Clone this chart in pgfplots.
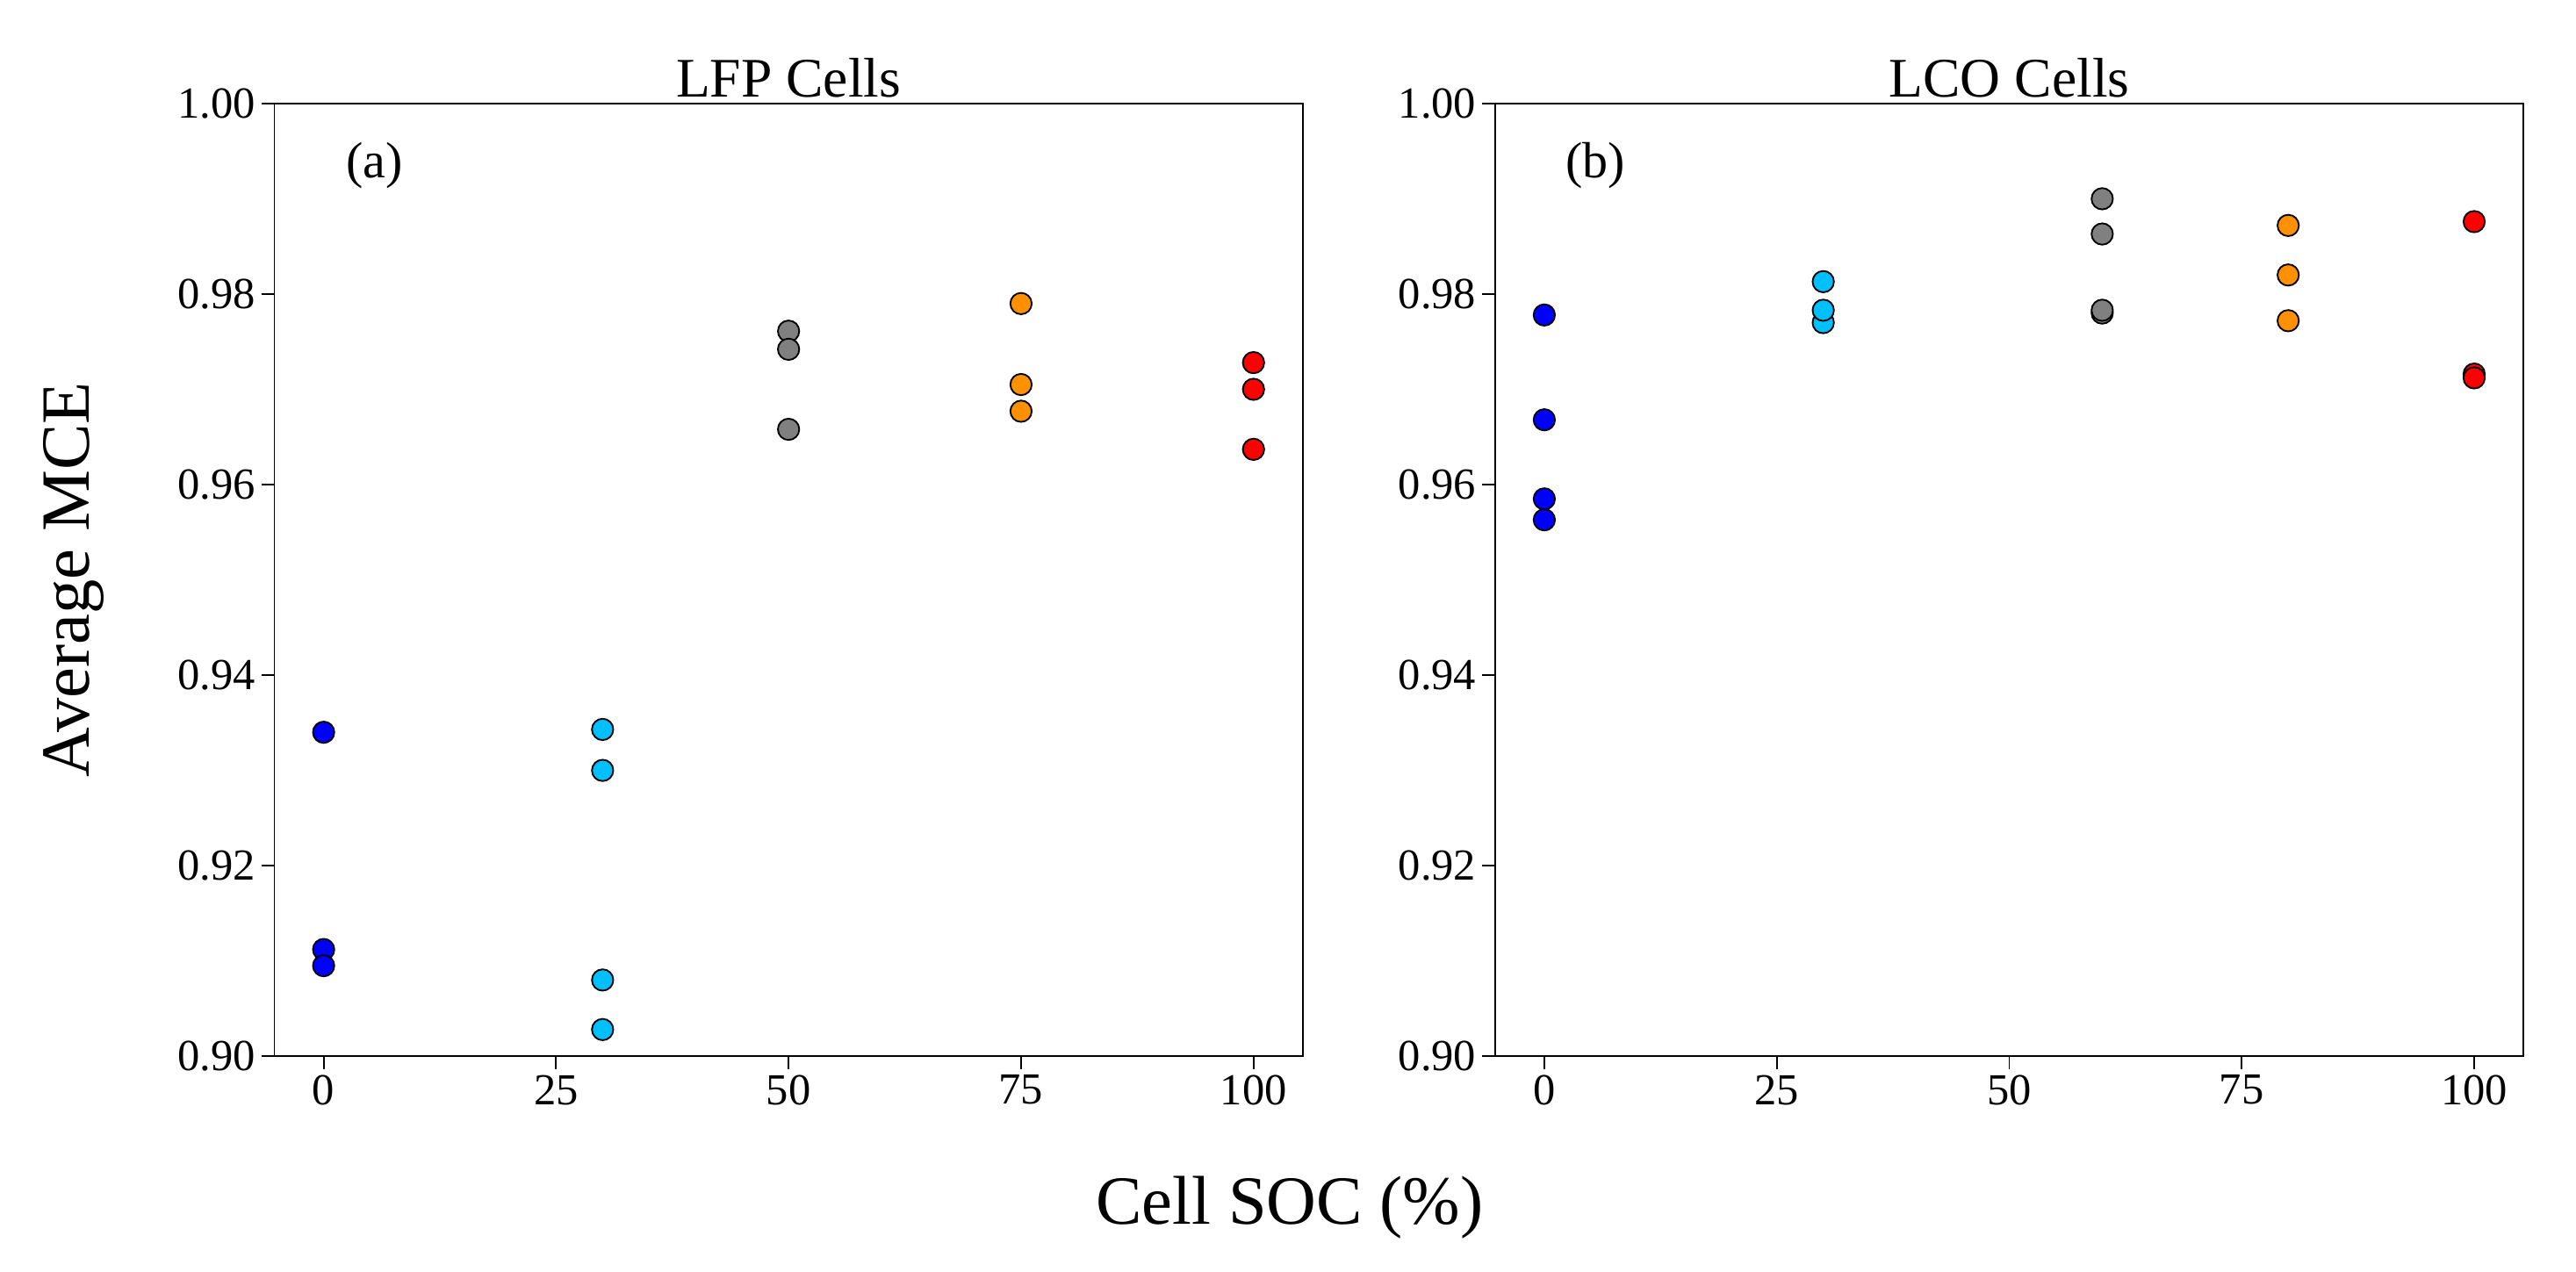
\documentclass[border=0pt]{standalone}
\usepackage{pgfplots}
\pgfplotsset{compat=1.18}
\usepackage{fontspec}
\setmainfont{Liberation Serif}
\definecolor{cblue}{RGB}{0,0,255}
\definecolor{ccyan}{RGB}{0,191,255}
\definecolor{cgray}{RGB}{128,128,128}
\definecolor{corange}{RGB}{255,145,0}
\definecolor{cred}{RGB}{255,0,0}
\begin{document}
\begin{tikzpicture}
\path[use as bounding box] (-167pt,63pt) rectangle (1401pt,-711pt);
\pgfplotsset{every axis/.style={scale only axis, width=626pt, height=580pt,
 xmin=-5.3, xmax=105.3, ymin=0.90, ymax=1.00,
 xtick={0,25,50,75,100}, ytick={0.90,0.92,...,1.001},
 yticklabel style={/pgf/number format/fixed,/pgf/number format/fixed zerofill,/pgf/number format/precision=2},
 /pgf/number format/assume math mode=true,
 tick align=outside, xtick pos=bottom, ytick pos=left,
 tick style={black, line width=1pt}, major tick length=8pt,
 ticklabel style={font=\fontsize{27}{27}\selectfont},
 title style={font=\fontsize{34}{34}\selectfont, yshift=-6pt},
 axis line style={line width=1pt},
 only marks}}
\pgfplotsset{m/.style={mark=*, mark size=6.5pt, mark options={draw=black, line width=1pt, fill=#1}}}
\begin{axis}[at={(0,0)}, anchor=north west, title={LFP Cells}]
\addplot[m=cblue] coordinates {(0,0.934)(0,0.9112)(0,0.9095)};
\addplot[m=ccyan] coordinates {(30,0.9343)(30,0.930)(30,0.908)(30,0.9028)};
\addplot[m=cgray] coordinates {(50,0.9761)(50,0.9742)(50,0.9658)};
\addplot[m=corange] coordinates {(75,0.979)(75,0.9705)(75,0.9677)};
\addplot[m=cred] coordinates {(100,0.9728)(100,0.970)(100,0.9637)};
\node[font=\fontsize{31}{31}\selectfont] at (axis cs:5.5,0.9935) {(a)};
\end{axis}
\begin{axis}[at={(743pt,0)}, anchor=north west, title={LCO Cells}]
\addplot[m=cblue] coordinates {(0,0.9778)(0,0.9668)(0,0.9585)(0,0.9563)};
\addplot[m=ccyan] coordinates {(30,0.977)(30,0.9783)(30,0.9813)};
\addplot[m=cgray] coordinates {(60,0.978)(60,0.9783)(60,0.9863)(60,0.990)};
\addplot[m=corange] coordinates {(80,0.9772)(80,0.982)(80,0.9872)};
\addplot[m=cred] coordinates {(100,0.9716)(100,0.9712)(100,0.9876)};
\node[font=\fontsize{31}{31}\selectfont] at (axis cs:5.5,0.9935) {(b)};
\end{axis}
\node[rotate=90, font=\fontsize{42}{42}\selectfont] at (-122pt,-290pt) {Average MCE};
\node[font=\fontsize{42}{42}\selectfont] at (618pt,-672pt) {Cell SOC (\%)};
\end{tikzpicture}
\end{document}
